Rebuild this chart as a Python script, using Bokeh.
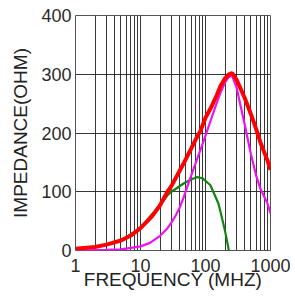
from bokeh.plotting import figure
from bokeh.models import Range1d, FixedTicker, PrintfTickFormatter
from bokeh.embed import file_html
from bokeh.resources import INLINE

# Data
red_f = [1, 2, 3, 5, 7, 10, 15, 20, 26, 30, 46, 70, 84, 100, 120, 150, 170, 200, 230, 257, 300, 400, 500, 600, 700, 900, 1000]
red_z = [3, 6, 10, 17, 25, 38, 58, 77, 100, 110, 148, 188, 204, 226, 242, 265, 280, 293, 300, 302, 291, 260, 232, 207, 184, 153, 137]

mag_f = [1, 3, 5, 10, 14, 20, 26, 30, 35, 40, 46, 55, 66, 94, 119, 150, 169, 200, 230, 257, 300, 400, 500, 600, 700, 900, 1000]
mag_z = [0, 1, 2, 7, 13, 25, 38, 48, 60, 73, 90, 115, 140, 187, 220, 252, 268, 286, 296, 297, 278, 215, 164, 128, 105, 80, 63]

grn_f = [1, 2, 3, 5, 10, 14, 20, 26, 30, 46, 60, 74, 90, 119, 158, 170, 200, 229]
grn_z = [3, 6, 10, 17, 38, 58, 77, 94, 100, 114, 121, 125, 123, 111, 80, 66, 33, 0]

x_major = [1, 10, 100, 1000]
x_minor = [2, 3, 4, 5, 6, 7, 8, 9, 20, 30, 40, 50, 60, 70, 80, 90,
           200, 300, 400, 500, 600, 700, 800, 900]
y_ticks = [0, 100, 200, 300, 400]

p = figure(width=290, height=295, x_axis_type="log",
           x_range=Range1d(1, 1000), y_range=Range1d(0, 400),
           output_backend="svg", toolbar_location=None,
           min_border_left=75, min_border_right=20, min_border_top=15, min_border_bottom=45)

p.xaxis.ticker = FixedTicker(ticks=x_major, minor_ticks=x_minor)
p.xaxis.formatter = PrintfTickFormatter(format="%d")
p.yaxis.ticker = FixedTicker(ticks=y_ticks)

for ax in (p.xaxis, p.yaxis):
    ax.axis_line_color = None
    ax.major_tick_line_color = None
    ax.minor_tick_line_color = None
    ax.major_tick_out = 0
    ax.minor_tick_out = 0
    ax.major_label_text_font = "Liberation Sans"
    ax.major_label_text_font_size = "18px"
    ax.major_label_text_color = "#2a2a2a"
    ax.axis_label_text_font = "Liberation Sans"
    ax.axis_label_text_font_size = "19px"
    ax.axis_label_text_font_style = "normal"
    ax.axis_label_text_color = "#222222"

p.xaxis.axis_label = "FREQUENCY (MHZ)"
p.yaxis.axis_label = "IMPEDANCE(OHM)"
p.xaxis.major_label_standoff = 8
p.xaxis.axis_label_standoff = -6
p.yaxis.major_label_standoff = 4
p.yaxis.axis_label_standoff = 7

p.xgrid.grid_line_color = "#222222"
p.xgrid.grid_line_alpha = 0.9
p.xgrid.minor_grid_line_color = "#222222"
p.xgrid.minor_grid_line_alpha = 0.9
p.ygrid.grid_line_color = "#222222"
p.ygrid.grid_line_alpha = 0.9

p.outline_line_color = "#555555"
p.outline_line_width = 1

p.line(grn_f, grn_z, line_color="#128312", line_width=2.2)
p.line(mag_f, mag_z, line_color="#f010f0", line_width=2.2)
p.line(red_f, red_z, line_color="#ff0000", line_width=4)

open("out.html", "w").write(file_html(p, INLINE))
